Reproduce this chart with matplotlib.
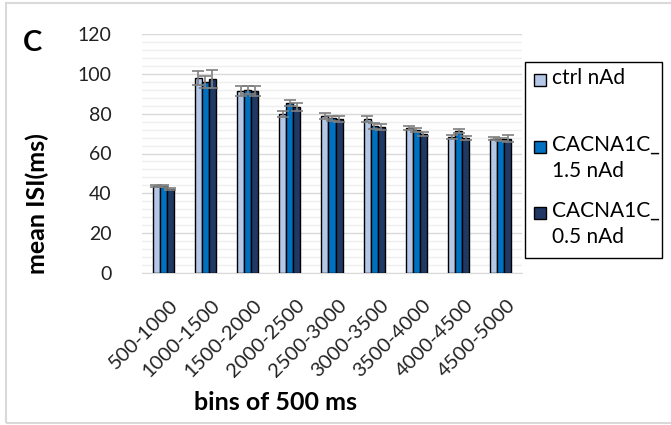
import numpy as np
import matplotlib.pyplot as plt
from matplotlib.patches import Rectangle
from matplotlib.ticker import MultipleLocator
import matplotlib.transforms as mtransforms

plt.rcParams['font.family'] = ['Lato', 'DejaVu Sans']

# data
bins = ['500-1000', '1000-1500', '1500-2000', '2000-2500', '2500-3000',
        '3000-3500', '3500-4000', '4000-4500', '4500-5000']
ctrl_mean = [43.5, 97.7, 91.4, 79.7, 78.8, 77.1, 72.6, 68.4, 67.4]
ctrl_err = [0.5, 3.5, 2.5, 1.5, 1.5, 1.5, 1.0, 1.0, 0.8]
c15_mean = [43.5, 96.0, 92.0, 85.6, 77.6, 73.8, 71.6, 71.3, 67.1]
c15_err = [0.5, 3.0, 2.0, 1.5, 1.3, 1.5, 1.0, 1.0, 0.8]
c05_mean = [42.4, 97.2, 91.4, 83.5, 77.1, 73.5, 69.6, 67.6, 67.4]
c05_err = [0.5, 4.5, 2.5, 2.0, 1.5, 1.5, 1.0, 1.0, 1.8]
labels = ['ctrl nAd', 'CACNA1C_\n1.5 nAd', 'CACNA1C_\n0.5 nAd']
colors = ['#B4C7E7', '#0070C0', '#203864']

W, H = 671, 425
def px(x, y):
    # pixel coords (from top-left) -> figure fraction
    return x / W, 1 - y / H

fig = plt.figure(figsize=(W/100, H/100), dpi=100)
ax = fig.add_axes([142/W, 1-273/H, (522-142)/W, (273-34)/H])

x = np.arange(len(bins))
w = 0.166
series = [(ctrl_mean, ctrl_err), (c15_mean, c15_err), (c05_mean, c05_err)]
for i, (m, e) in enumerate(series):
    ax.bar(x + (i-1)*w, m, w, color=colors[i], edgecolor='black', linewidth=1.0,
           yerr=e, zorder=3,
           error_kw=dict(ecolor='#7F7F7F', elinewidth=1.2, capsize=4.5, capthick=1.2))

ax.set_xlim(-0.5, len(bins)-0.5)
ax.set_ylim(0, 120)
ax.yaxis.set_major_locator(MultipleLocator(20))
ax.yaxis.set_minor_locator(MultipleLocator(4))
ax.grid(axis='y', which='major', color='#D9D9D9', lw=1.0, zorder=0)
ax.grid(axis='y', which='minor', color='#EFEFEF', lw=1.0, zorder=0)
for s in ['top', 'right', 'left']:
    ax.spines[s].set_visible(False)
ax.spines['bottom'].set_color('#D9D9D9')
ax.tick_params(axis='both', which='both', length=0)
ax.tick_params(axis='y', labelsize=14, pad=22, labelcolor='#222222')
ax.set_xticks(x)
ax.set_xticklabels(bins, rotation=45, ha='right', va='top', rotation_mode='anchor',
                   fontsize=14.5, color='#222222')
ax.tick_params(axis='x', pad=17)
shift = mtransforms.ScaledTranslation(6/100, 0, fig.dpi_scale_trans)
for lab in ax.get_xticklabels():
    lab.set_transform(lab.get_transform() + shift)

fig.text(*px(37, 204), 'mean ISI(ms)', rotation=90, ha='center', va='center',
         fontsize=18, fontweight='bold')
fig.text(*px(275, 403), 'bins of 500 ms', ha='center', va='center',
         fontsize=18, fontweight='bold')
fig.text(*px(32, 43), 'C', ha='center', va='center', fontsize=21, fontweight='bold')

# legend box drawn by hand
lx0, ly0, lx1, ly1 = 525, 62, 662, 258
fig.patches.append(Rectangle(px(lx0, ly1), (lx1-lx0)/W, (ly1-ly0)/H,
                             transform=fig.transFigure, facecolor='white',
                             edgecolor='black', lw=1.0, zorder=5))
entry_y = [80, 147, 213]
for c, lab, ey in zip(colors, labels, entry_y):
    fig.patches.append(Rectangle(px(534, ey+6), 12/W, 12/H, transform=fig.transFigure,
                                 facecolor=c, edgecolor='black', lw=1.0, zorder=6))
    fig.text(*px(552, ey-12), lab, ha='left', va='top', fontsize=15,
             linespacing=1.35, zorder=6)

fig.patches.append(Rectangle(px(6, 423), 700/W, 420/H, transform=fig.transFigure,
                             fill=False, edgecolor='#D9D9D9', lw=1.5))

fig.savefig('out.png', dpi=100)
